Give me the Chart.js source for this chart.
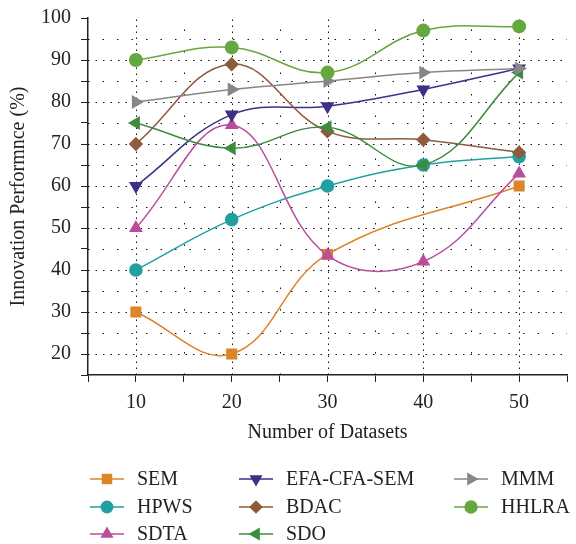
<!DOCTYPE html>
<html>
<head>
<meta charset="utf-8">
<script src="https://cdn.jsdelivr.net/npm/chart.js@4.4.1/dist/chart.umd.min.js"></script>
<style>
  html, body { margin: 0; padding: 0; background: #fff; }
  #wrap { width: 576px; height: 544px; }
</style>
</head>
<body>
<div id="wrap"><canvas id="chart"></canvas></div>
<script>
// values
const datasetSizes = [10, 20, 30, 40, 50];
const seriesNames = ["SEM", "HPWS", "SDTA", "EFA-CFA-SEM", "BDAC", "SDO", "MMM", "HHLRA"];
const semValues = [30, 20, 43.7, null, 60];
const hpwsValues = [40, 52, 60, 65, 67];
const sdtaValues = [50, 74.5, 43.5, 42, 63];
const efaValues = [60, 77, 79, 83, 88];
const bdacValues = [70, 89, 73, 71, 68];
const sdoValues = [75, 69, 74, 65, 87];
const mmmValues = [80, 83, 85, 87, 88];
const hhlraValues = [90, 93, 87, 97, 98];

const allValues = [semValues, hpwsValues, sdtaValues, efaValues, bdacValues, sdoValues, mmmValues, hhlraValues];

// styles
const colors = ["#dc8429", "#22a09f", "#b94f9c", "#3f2f86", "#8e5b3e", "#3d8b3d", "#878787", "#66a840"];
const pointStyles = ["rect", "circle", "triangle", "triangle", "rectRot", "triangle", "triangle", "circle"];
const rotations = [0, 0, 0, 180, 0, -90, 90, 0];
const radii = [7.8, 6.8, 8, 8, 7.2, 8, 8, 7];

const FONT = "'Liberation Serif', 'DejaVu Serif', serif";

const datasets = seriesNames.map((name, i) => ({
    label: name,
    data: datasetSizes.map((x, j) => ({ x: x, y: allValues[i][j] })),
    borderColor: colors[i],
    backgroundColor: colors[i],
    pointBackgroundColor: colors[i],
    pointBorderColor: colors[i],
    pointStyle: pointStyles[i],
    rotation: rotations[i],
    pointRadius: radii[i],
    pointHoverRadius: radii[i],
    pointBorderWidth: 0,
    borderWidth: 1.5,
    tension: 0.4,
    spanGaps: true,
    order: seriesNames.length - i,
}));

// dotted grid, sparser on the in-between (5, 15, 25...) lines
const dottedGrid = {
    id: "dottedGrid",
    beforeDatasetsDraw(chart) {
        const { ctx, chartArea: a, scales } = chart;
        const xs = scales.x, ys = scales.y;
        ctx.save();
        ctx.strokeStyle = "#111";
        ctx.lineWidth = 1;
        xs.ticks.forEach((t) => {
            if (t.value <= xs.min || t.value >= xs.max) return;
            const px = Math.round(xs.getPixelForValue(t.value)) + 0.5;
            ctx.setLineDash(t.value % 10 === 0 ? [1.5, 4.5] : [1.5, 20]);
            ctx.beginPath();
            ctx.moveTo(px, a.bottom);
            ctx.lineTo(px, a.top);
            ctx.stroke();
        });
        ys.ticks.forEach((t) => {
            if (t.value <= ys.min || t.value >= ys.max) return;
            const py = Math.round(ys.getPixelForValue(t.value)) + 0.5;
            ctx.setLineDash(t.value % 10 === 0 ? [1.5, 6] : [1.5, 13]);
            ctx.beginPath();
            ctx.moveTo(a.left, py);
            ctx.lineTo(a.right, py);
            ctx.stroke();
        });
        ctx.restore();
    },
};

// legend in three columns under the axes
const columnLegend = {
    id: "columnLegend",
    afterDraw(chart) {
        const ctx = chart.ctx;
        const colX = [90, 239, 454];
        const rowY = [479, 507, 534];
        ctx.save();
        ctx.font = "20px " + FONT;
        ctx.textBaseline = "middle";
        seriesNames.forEach((name, i) => {
            const x = colX[Math.floor(i / 3)];
            const y = rowY[i % 3];
            ctx.strokeStyle = colors[i];
            ctx.fillStyle = colors[i];
            ctx.lineWidth = 1.5;
            ctx.beginPath();
            ctx.moveTo(x, y);
            ctx.lineTo(x + 34, y);
            ctx.stroke();
            Chart.helpers.drawPoint(ctx, {
                pointStyle: pointStyles[i],
                rotation: rotations[i],
                radius: radii[i] * 0.95,
                borderWidth: 0,
            }, x + 17, y);
            ctx.fillStyle = "#222";
            ctx.fillText(name, x + 47, y + 1);
        });
        ctx.restore();
    },
};

new Chart(document.getElementById("chart"), {
    type: "line",
    data: { datasets: datasets },
    plugins: [dottedGrid, columnLegend],
    options: {
        responsive: true,
        maintainAspectRatio: false,
        animation: false,
        layout: { padding: { top: 18, right: 0, bottom: 99, left: 0 } },
        plugins: {
            legend: { display: false },
            tooltip: { enabled: false },
        },
        scales: {
            x: {
                type: "linear",
                min: 5,
                max: 55,
                afterFit: (scale) => { scale.height = 70; },
                ticks: {
                    stepSize: 5,
                    autoSkip: false,
                    maxRotation: 0,
                    padding: 9,
                    color: "#222",
                    font: { family: FONT, size: 20 },
                    callback: (v) => (v % 10 === 0 ? v : ""),
                },
                grid: {
                    drawOnChartArea: false,
                    tickColor: "#222",
                    tickLength: 7,
                },
                border: { color: "#222", width: 1.5 },
                title: {
                    display: true,
                    text: "Number of Datasets",
                    color: "#222",
                    font: { family: FONT, size: 20 },
                    padding: { top: 0, bottom: 0 },
                },
            },
            y: {
                min: 15,
                max: 100,
                afterFit: (scale) => { scale.width = 88; scale.paddingTop = 0; },
                ticks: {
                    stepSize: 5,
                    autoSkip: false,
                    padding: 10,
                    color: "#222",
                    font: { family: FONT, size: 20 },
                    callback: (v) => (v % 10 === 0 ? v : ""),
                },
                grid: {
                    drawOnChartArea: false,
                    tickColor: "#222",
                    tickLength: 7,
                },
                border: { color: "#222", width: 1.5 },
                title: {
                    display: true,
                    text: "Innovation Performnce (%)",
                    color: "#222",
                    font: { family: FONT, size: 20 },
                    padding: { top: 7, bottom: 0 },
                },
            },
        },
    },
});
</script>
</body>
</html>
